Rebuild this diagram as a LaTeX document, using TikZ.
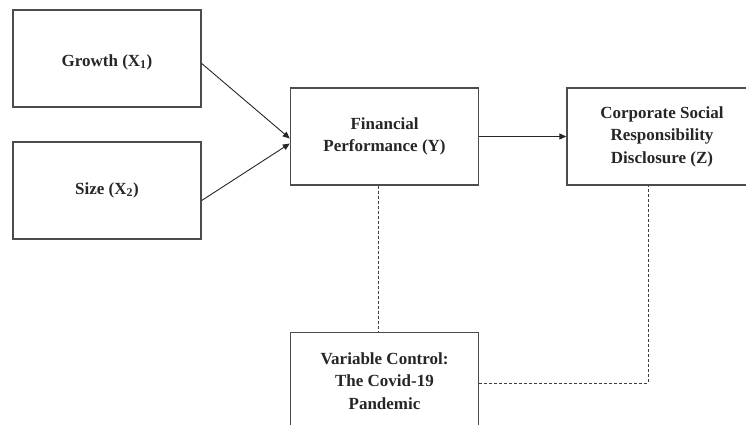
\documentclass[tikz,border=0pt]{standalone}
\usepackage{fontspec}
\setmainfont{Liberation Serif}
\usetikzlibrary{arrows.meta,calc}
\begin{document}
\begin{tikzpicture}[x=1pt,y=-1pt,
  txt/.style={font=\bfseries\fontsize{17}{22.5}\selectfont,text=black!85,align=center},
  box/.style={draw=black!70,line width=1.4pt,minimum width=188pt,minimum height=97pt,
    inner sep=0pt,txt},
  arr/.style={-{Triangle[length=7pt,width=6pt]},line width=0.9pt,black!85},
  dashline/.style={densely dashed,line width=0.8pt,black!75}]
\useasboundingbox (0,0) rectangle (746,425);
\begin{scope}
\clip (0,0) rectangle (746,425);
\node[box] (G) at (107,58.5) {};
\node[txt] (Gt) at (107,62) {Growth (X\textsubscript{1})};
\node[box] (S) at (107,190.5) {};
\node[txt] (St) at (107,190) {Size (X\textsubscript{2})};
\node[box] (F) at (384.5,136.5) {Financial\\Performance (Y)};
\node[box,minimum width=190pt] (C) at (662,136.5) {Corporate Social\\Responsibility\\Disclosure (Z)};
\node[box] (V) at (384.5,381) {Variable Control:\\The Covid-19\\Pandemic};
\end{scope}
\draw[arr] ($(G.east)+(0,5)$) -- ($(F.west)+(0,2)$);
\draw[arr] ($(S.east)+(0,10)$) -- ($(F.west)+(0,7)$);
\draw[arr] (F.east) -- (C.west);
\draw[dashline] ($(F.south)+(-6,0)$) -- ($(V.north)+(-6,0)$);
\draw[dashline] ($(V.east)+(0,2)$) -| ($(C.south)+(-14,0)$);
\end{tikzpicture}
\end{document}
